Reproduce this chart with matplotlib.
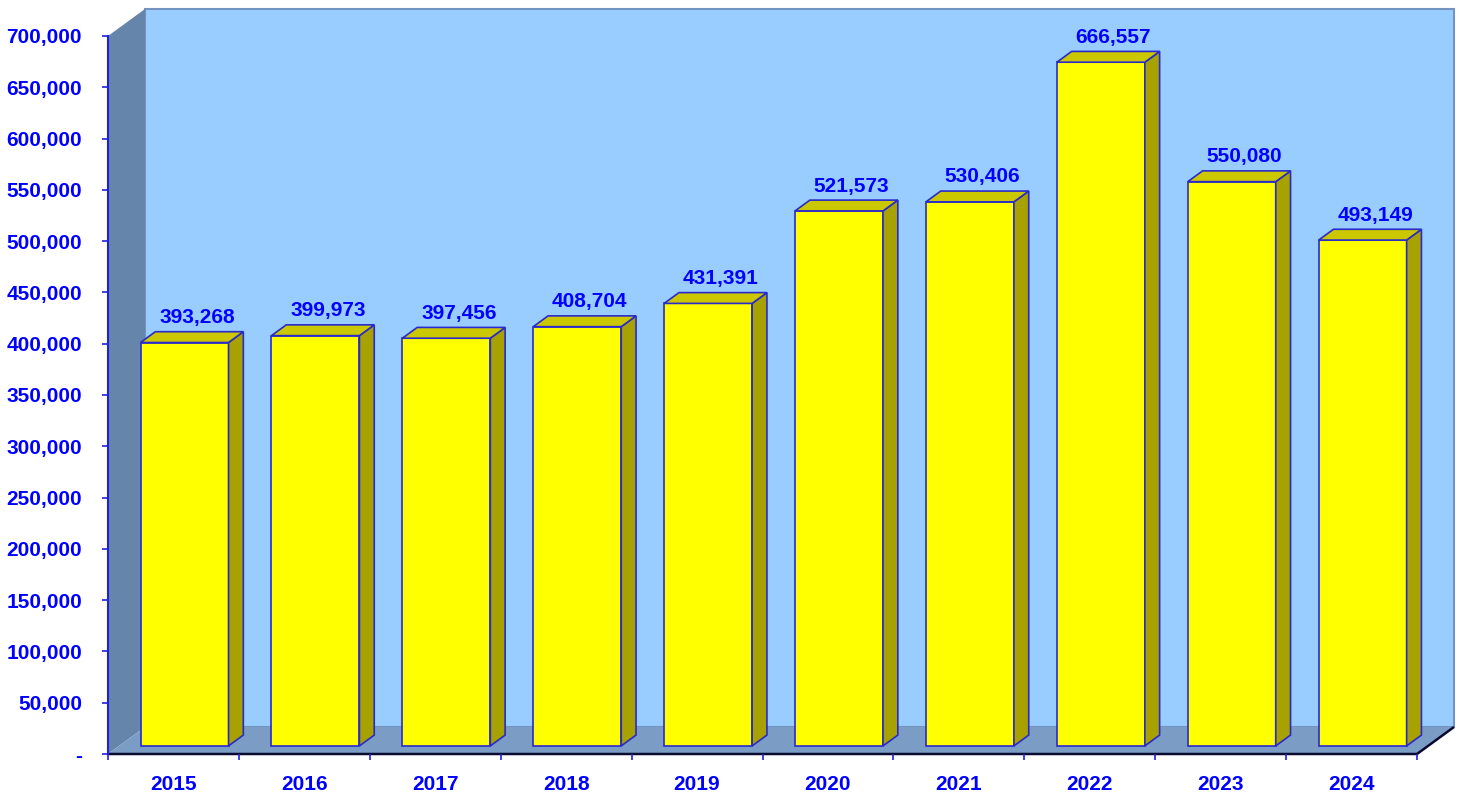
import matplotlib
matplotlib.use("Agg")
import numpy as np
import matplotlib.pyplot as plt
from matplotlib.patches import Polygon
from matplotlib.ticker import FuncFormatter, MultipleLocator, FixedLocator

years = ['2015', '2016', '2017', '2018', '2019', '2020', '2021', '2022', '2023', '2024']
values = [393268, 399973, 397456, 408704, 431391, 521573, 530406, 666557, 550080, 493149]
y_max = 700000
y_step = 50000

plt.rcParams['font.family'] = ['Liberation Sans', 'DejaVu Sans']
plt.rcParams['font.weight'] = 'bold'

W, H, DPI = 1464, 793, 100
fig = plt.figure(figsize=(W / DPI, H / DPI), dpi=DPI)
fig.patch.set_facecolor('white')
ax = fig.add_axes([108 / W, 39 / H, 1309 / W, 718 / H])

n = len(years)
ax.set_xlim(-0.5, n - 0.5)
ax.set_ylim(0, y_max)
ax.patch.set_visible(False)

# one screen pixel expressed in data units, used for the oblique depth
pos = ax.get_position()
px_x = n / (pos.width * W)
px_y = y_max / (pos.height * H)
DX, DY = 37 * px_x, 27 * px_y


def shift(x, y, d):
    return (x + d * DX, y + d * DY)


BLUE = '#0000FF'
EDGE = '#2A2ACC'

# back wall, side wall and floor of the 3-D box
back = Polygon([shift(-0.5, 0, 1), shift(n - 0.5, 0, 1), shift(n - 0.5, y_max, 1),
                shift(-0.5, y_max, 1)], closed=True, fc='#99CCFF', ec='#7394BC',
               lw=1.5, clip_on=False, zorder=0.5)
side_wall = Polygon([(-0.5, 0), (-0.5, y_max), shift(-0.5, y_max, 1), shift(-0.5, 0, 1)],
                    closed=True, fc='#6685AA', ec='none', clip_on=False, zorder=0.6)
floor = Polygon([(-0.5, 0), (n - 0.5, 0), shift(n - 0.5, 0, 1), shift(-0.5, 0, 1)],
                closed=True, fc='#7B9DC5', ec='none', clip_on=False, zorder=0.6)
for p in (back, side_wall, floor):
    ax.add_patch(p)
fx, fy = shift(n - 0.5, 0, 1)
ax.plot([-0.5, n - 0.5, fx], [0, 0, fy], color='#0A0A30', lw=1.8,
        clip_on=False, zorder=0.7, solid_capstyle='butt')

# bars: front face drawn with bar(), top and side faces as polygons
d0, d1 = 0.3, 0.7
bw = 0.672
xs = np.arange(n)
ax.bar(xs + d0 * DX, values, width=bw, bottom=d0 * DY, color='#FFFF00',
       edgecolor=EDGE, linewidth=1.2, zorder=2)
for i, v in enumerate(values):
    x0, x1 = i - bw / 2, i + bw / 2
    top = Polygon([shift(x0, v, d0), shift(x1, v, d0), shift(x1, v, d1), shift(x0, v, d1)],
                  closed=True, fc='#CCC800', ec=EDGE, lw=1.2, zorder=2.1, clip_on=False)
    side = Polygon([shift(x1, 0, d0), shift(x1, v, d0), shift(x1, v, d1), shift(x1, 0, d1)],
                   closed=True, fc='#A8A200', ec=EDGE, lw=1.2, zorder=2.1, clip_on=False)
    ax.add_patch(side)
    ax.add_patch(top)
    ax.annotate(f'{v:,}', (i, v), xytext=(23.5, 27.5), textcoords='offset pixels',
                ha='center', va='baseline', fontsize=15, fontweight='bold',
                color=BLUE, zorder=3, annotation_clip=False)

# axes styling
for s in ('top', 'right', 'bottom'):
    ax.spines[s].set_visible(False)
ax.spines['left'].set_color('#2020E0')
ax.spines['left'].set_linewidth(1.5)
ax.spines['left'].set_zorder(2.5)

ax.yaxis.set_major_locator(MultipleLocator(y_step))
ax.yaxis.set_major_formatter(FuncFormatter(lambda v, _: '-' if v == 0 else f'{v:,.0f}'))
ax.tick_params(axis='y', length=4.3, width=1.2, color='#2020E0', pad=14.4,
               labelsize=15, labelcolor=BLUE)

ax.xaxis.set_major_locator(FixedLocator(np.arange(-0.5, n, 1.0)))
ax.xaxis.set_major_formatter(FuncFormatter(lambda v, _: ''))
ax.set_xticks(xs, labels=years, minor=True)
ax.tick_params(axis='x', which='major', length=4.3, width=1.2, color='#2020E0')
ax.tick_params(axis='x', which='minor', length=0, pad=15, labelsize=15, labelcolor=BLUE)
for lbl in ax.get_xticklabels(minor=True) + ax.get_yticklabels():
    lbl.set_fontweight('bold')

fig.savefig('out.png', dpi=DPI, facecolor='white')
